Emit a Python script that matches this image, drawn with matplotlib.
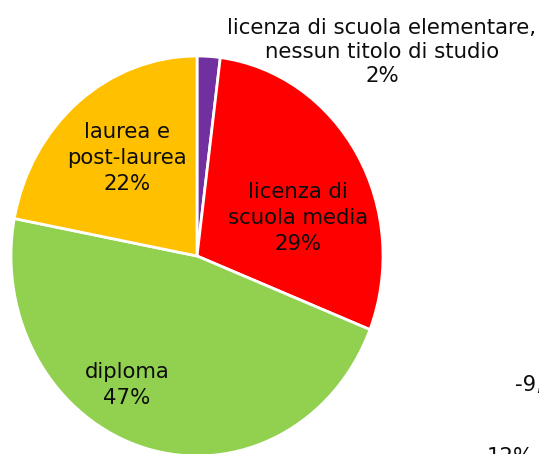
import matplotlib
matplotlib.use('Agg')
import matplotlib.pyplot as plt

categories = ['licenza di scuola elementare,\nnessun titolo di studio', 'licenza di\nscuola media',
              'diploma', 'laurea e\npost-laurea']
shares = [2, 29, 47, 22]
colors = ['#7030A0', '#FF0000', '#92D050', '#FFC000']

W, H = 539, 454
fig = plt.figure(figsize=(W / 100, H / 100), dpi=100)
# pie is slightly stretched vertically in the reference
cx, cy, rx, ry = 197, 256, 186, 200
ax = fig.add_axes([(cx - rx) / W, 1 - (cy + ry) / H, 2 * rx / W, 2 * ry / H])

ax.pie(shares, colors=colors, startangle=90, counterclock=False,
       wedgeprops=dict(edgecolor='white', linewidth=2))
ax.set_aspect('auto')
ax.set_xlim(-1, 1)
ax.set_ylim(-1, 1)

# label positions in pixels (x, y from top)
label_px = [(382, 52), (298, 218), (127, 385), (127, 158)]
spacing = [1.25, 1.4, 1.4, 1.4]
for cat, val, (px, py), ls in zip(categories, shares, label_px, spacing):
    ax.text((px - cx) / rx, (cy - py) / ry, '%s\n%d%%' % (cat, val),
            ha='center', va='center', fontsize=15.3, color='#0d0d0d',
            linespacing=ls, clip_on=False)

# leftovers of a neighbouring chart, cut by the crop (as in the reference)
fig.text(515 / W, 1 - 385 / H, '-9,4%', ha='left', va='center', fontsize=15.3, color='#0d0d0d')
fig.text(487 / W, 1 - 447 / H, '12%', ha='left', va='top', fontsize=15.3, color='#0d0d0d')

fig.savefig('out.png', dpi=100)
